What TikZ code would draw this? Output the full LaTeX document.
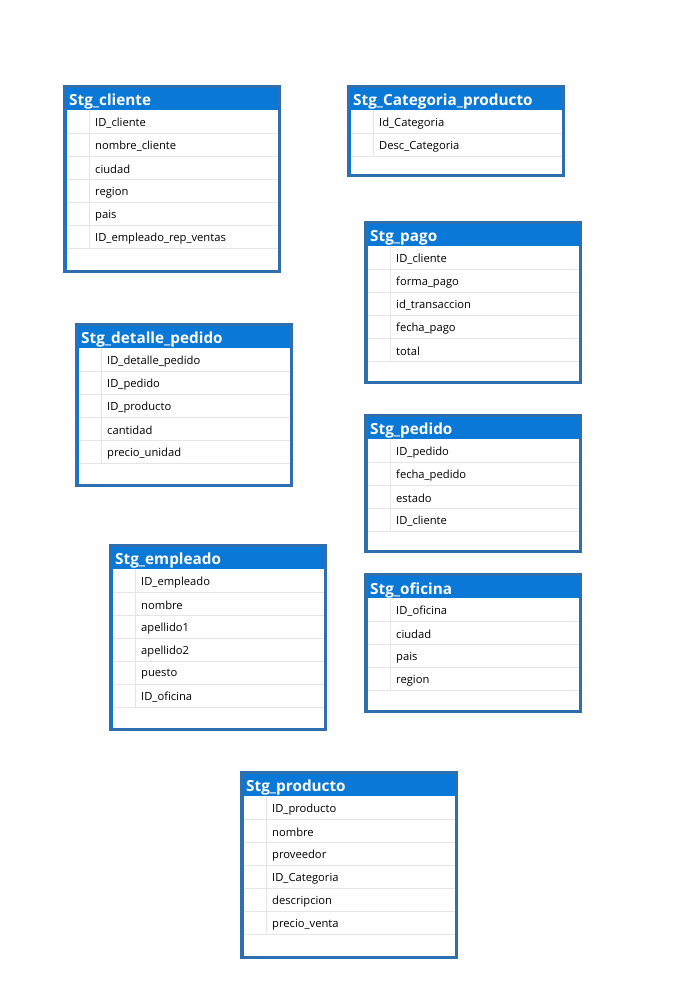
\documentclass[tikz,border=0pt]{standalone}
\usepackage{fontspec}
\setmainfont{Open Sans}
\usepackage{xcolor}
\usepackage{tikz}
\usetikzlibrary{positioning}
\definecolor{cabecera}{HTML}{0A78D6}
\definecolor{marco}{HTML}{2F6EAF}
\definecolor{rejilla}{HTML}{E6E6E6}
\newcommand{\campos}{\fontsize{11.2}{13}\selectfont}
\newcommand{\titulos}{\fontsize{15.3}{17}\selectfont\bfseries}
% #1 nodo, #2 titulo, #3 izquierda, #4 arriba, #5 abajo, #6 campos
\newcommand{\tabla}[6]{%
  \fill[cabecera] (#3,#4) rectangle (#3+218,#5);
  \draw[marco] (#3+1.5,#4+1.5) rectangle (#3+216.5,#5-1.5);
  \fill[white] (#3+3.5,#4+24.5) rectangle (#3+214.5,#5-3.5);
  \node[titulo] (#1) at (#3+6,#4+17) {#2};
  \foreach \f [count=\i] in {#6} {
    \draw[linea] (#3+3.5,#4+48+23*\i-23) -- ++(211,0);
    \draw[linea] (#3+26,#4+48+23*\i-23) -- ++(0,-23);
    \node[campo] (#1-\i) at (#3+32,#4+38.5+23*\i-23) {\f};
  }
}

\begin{document}
\begin{tikzpicture}[x=1pt, y=-1pt,
  titulo/.style={anchor=west, inner sep=0pt, text=white, font=\titulos},
  campo/.style={anchor=west, inner sep=0pt, text=black, font=\campos},
  linea/.style={draw=rejilla, line width=0.8pt},
  marco/.style={draw=marco, line width=3pt}]
\fill[white] (0,0) rectangle (691,996);

\tabla{cliente}{Stg\_cliente}{63}{85}{273}{ID\_cliente, nombre\_cliente, ciudad, region, pais, ID\_empleado\_rep\_ventas}
\tabla{categoria}{Stg\_Categoria\_producto}{347}{85}{177}{Id\_Categoria, Desc\_Categoria}
\tabla{pago}{Stg\_pago}{364}{221}{384}{ID\_cliente, forma\_pago, id\_transaccion, fecha\_pago, total}
\tabla{detalle}{Stg\_detalle\_pedido}{75}{323}{487}{ID\_detalle\_pedido, ID\_pedido, ID\_producto, cantidad, precio\_unidad}
\tabla{pedido}{Stg\_pedido}{364}{414}{553}{ID\_pedido, fecha\_pedido, estado, ID\_cliente}
\tabla{empleado}{Stg\_empleado}{109}{544}{731}{ID\_empleado, nombre, apellido1, apellido2, puesto, ID\_oficina}
\tabla{oficina}{Stg\_oficina}{364}{573}{713}{ID\_oficina, ciudad, pais, region}
\tabla{producto}{Stg\_producto}{240}{771}{959}{ID\_producto, nombre, proveedor, ID\_Categoria, descripcion, precio\_venta}
\end{tikzpicture}
\end{document}
